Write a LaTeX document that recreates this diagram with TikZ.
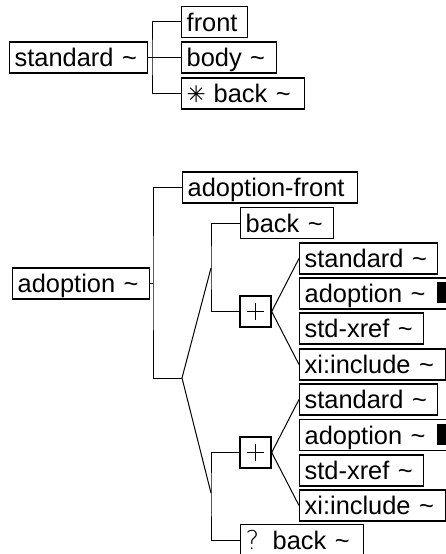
\documentclass[tikz,border=0pt]{standalone}
\usepackage{fontspec}
\setmainfont{Liberation Sans}
\newfontfamily\djv{DejaVu Sans}
\newfontfamily\djl{DejaVu Sans ExtraLight}
\newcommand{\tl}{\textasciitilde}
\begin{document}
\begin{tikzpicture}[x=1bp,y=-1bp,
  box/.style={draw, line width=1.4bp, minimum height=31bp, inner xsep=5bp, inner ysep=0pt,
    anchor=west, align=left, text height=20.5bp, text depth=2bp,
    font=\fontsize{25.5}{30}\selectfont},
  pbox/.style={draw, line width=1.4bp, minimum width=31bp, minimum height=31bp, inner sep=0pt},
  conn/.style={line width=1bp},
  plusmark/.style={line width=1.2bp}]
\useasboundingbox (0,0) rectangle (446,554);

% ---- top group ----
\node[box, text width=128bp] (std) at (9,57.5) {standard \tl};
\node[box, text width=56bp] (front) at (181,22) {front};
\node[box, text width=85bp] (body) at (181,57.5) {body \tl};
\node[box, text width=113bp] (sback) at (181,93.5) {\makebox[27bp][l]{\djv\fontsize{23}{24}\selectfont ✳}back \tl};
\coordinate (j1) at (152,57.5);
\draw[conn] (std.east) -- (j1) -- (body.west);
\draw[conn] (front.west) -| (j1) |- (sback.west);

% ---- second group ----
\node[box, text width=127bp] (adr) at (12,283.5) {adoption \tl};
\node[box, text width=165bp] (af) at (182,187.5) {adoption-front};
\node[box, text width=83bp] (bk) at (240,223) {back \tl};
\node[pbox] (p1) at (255.5,311.5) {};
\node[box, text width=128bp] (sa1) at (299,258.5) {standard \tl};
\node[box, text width=151bp] (aa1) at (299,293.5) {adoption \tl};
\node[box, text width=114bp] (sx1) at (299,328.5) {std-xref \tl};
\node[box, text width=136bp] (xi1) at (299,364.5) {xi:include \tl};
\node[pbox] (p2) at (255.5,452.5) {};
\node[box, text width=128bp] (sa2) at (299,399.5) {standard \tl};
\node[box, text width=151bp] (aa2) at (299,435) {adoption \tl};
\node[box, text width=114bp] (sx2) at (299,470.5) {std-xref \tl};
\node[box, text width=136bp] (xi2) at (299,505.5) {xi:include \tl};
\node[box, text width=113bp] (qb) at (240,540) {\makebox[27bp][l]{\djl\fontsize{26}{28}\selectfont ?}back \tl};

% black markers
\fill ([shift={(138,-11.5)}]aa1.west) rectangle ++(18,21);
\fill ([shift={(138,-11.5)}]aa2.west) rectangle ++(18,21);

% plus marks
\foreach \p in {p1,p2}{
  \draw[plusmark] ([xshift=-8.5bp]\p.center) -- ([xshift=8.5bp]\p.center);
  \draw[plusmark] ([yshift=-8.5bp]\p.center) -- ([yshift=8.5bp]\p.center);
}

\coordinate (j2) at (153,283.5);
\coordinate (ch) at (182,378);
\coordinate (s1) at (211,268);
\coordinate (s2) at (211,493);
\draw[conn] (adr.east) -- (j2);
\draw[conn] (af.west) -| (j2) |- (ch);
\draw[conn] (s1) -- (ch) -- (s2);
\draw[conn] (bk.west) -| (s1) |- (p1.west);
\draw[conn] (p2.west) -| (s2) |- (qb.west);
\draw[conn] (sa1.west) -- (p1.east) -- (xi1.west);
\draw[conn] (sa2.west) -- (p2.east) -- (xi2.west);
\end{tikzpicture}
\end{document}
